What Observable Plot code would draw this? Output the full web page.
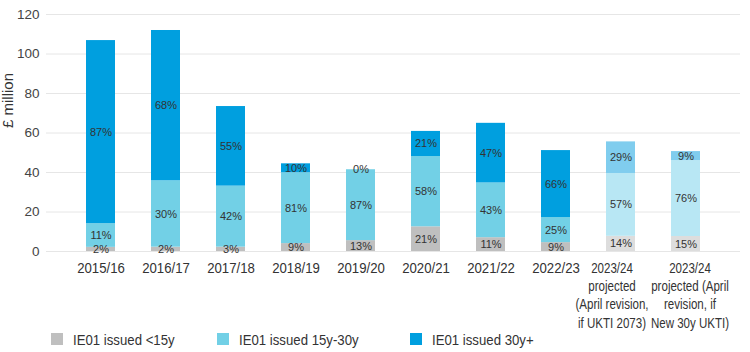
<!DOCTYPE html>
<html>
<head>
<meta charset="utf-8">
<script src="https://cdn.jsdelivr.net/npm/d3@7"></script>
<script src="https://cdn.jsdelivr.net/npm/@observablehq/plot@0.6"></script>
<style>
  html, body { margin: 0; padding: 0; background: #fff; }
  #chart { width: 750px; }
  .legend { display: flex; height: 26px; align-items: center; padding-left: 51px;
    font-family: "Liberation Sans", Arial, sans-serif; font-size: 15px; color: #333; }
  .legend .item { display: flex; align-items: center; }
  .legend .sw { width: 12px; height: 12px; margin-right: 10px; flex: none; }
  .legend .lbl { display: inline-block; transform: scaleX(0.88); transform-origin: left center; white-space: nowrap; }
</style>
</head>
<body>
<div id="chart"></div>
<script>
const categories = [
  "2015/16", "2016/17", "2017/18", "2018/19", "2019/20", "2020/21", "2021/22", "2022/23",
  "2023/24\nprojected\n(April revision,\nif UKTI 2073)",
  "2023/24\nprojected (April\nrevision, if\nNew 30y UKTI)"
];
const projected = [false, false, false, false, false, false, false, false, true, true];
const seriesNames = ["IE01 issued <15y", "IE01 issued 15y-30y", "IE01 issued 30y+"];
// £ million
const under15 = [2.1, 2.2, 2.2, 4.0, 5.5, 12.5, 7.0, 4.5, 7.7, 7.6];
const from15to30 = [12.0, 33.6, 30.9, 35.9, 35.9, 35.6, 27.7, 12.7, 31.8, 38.4];
const over30 = [92.7, 76.1, 40.3, 4.5, 0, 12.7, 30.2, 33.9, 16.0, 4.6];
// share labels
const pctUnder15 = ["2%", "2%", "3%", "9%", "13%", "21%", "11%", "9%", "14%", "15%"];
const pct15to30 = ["11%", "30%", "42%", "81%", "87%", "58%", "43%", "25%", "57%", "76%"];
const pctOver30 = ["87%", "68%", "55%", "10%", "0%", "21%", "47%", "66%", "29%", "9%"];
const yTicks = [0, 20, 40, 60, 80, 100, 120];

const colorKeys = [
  "IE01 issued <15y", "IE01 issued 15y-30y", "IE01 issued 30y+",
  "IE01 issued <15y projected", "IE01 issued 15y-30y projected", "IE01 issued 30y+ projected"
];
const colorRange = ["#bfbfbf", "#72d0e6", "#009fdf", "#dddddd", "#b8e7f4", "#80cdee"];

const valueSets = [under15, from15to30, over30];
const pctSets = [pctUnder15, pct15to30, pctOver30];
const rows = [];
categories.forEach((c, i) => {
  seriesNames.forEach((s, j) => {
    rows.push({
      category: c,
      series: s,
      key: s + (projected[i] ? " projected" : ""),
      value: valueSets[j][i],
      pct: pctSets[j][i],
      order: j
    });
  });
});

const font = "'Liberation Sans', Arial, sans-serif";
const tickStyle = { tickSize: 0, tickPadding: 8, fontSize: 15, lineHeight: 1.23, fill: "#333", label: null };

const plot = Plot.plot({
  width: 750,
  height: 326,
  marginTop: 14,
  marginBottom: 75,
  marginLeft: 46,
  marginRight: 10,
  style: { fontFamily: font, color: "#333", background: "#fff", overflow: "visible" },
  x: { domain: categories, padding: 0.55, label: null },
  y: { domain: [0, 120], label: null },
  color: { type: "ordinal", domain: colorKeys, range: colorRange },
  marks: [
    Plot.gridY(yTicks, { stroke: "#e6e6e6", strokeOpacity: 1 }),
    Plot.barY(rows, Plot.stackY({ x: "category", y: "value", z: "order", order: "order", fill: "key" })),
    Plot.text(rows, Plot.stackY({ x: "category", y: "value", z: "order", order: "order", text: "pct",
      fill: "#333", fontSize: 11, ariaLabel: "pct" })),
    Plot.axisY(yTicks, { tickSize: 0, tickPadding: 7, fontSize: 13.5, fill: "#444", label: null }),
    Plot.axisX(categories.slice(0, 8), tickStyle),
    Plot.axisX(categories.slice(8, 9), { ...tickStyle, dx: -9 }),
    Plot.axisX(categories.slice(9, 10), { ...tickStyle, dx: 4 }),
    Plot.text(["£ million"], { text: d => d, frameAnchor: "left", rotate: -90, dx: -38, dy: -5, fontSize: 15, fill: "#333", ariaLabel: "ylabel" })
  ]
});

// condense text horizontally to mimic the narrow typeface of the original
function squeeze(sel, k) {
  sel.each(function () {
    const t = this.getAttribute("transform") || "";
    const x = parseFloat(this.getAttribute("x"));
    if (!isNaN(x) && x !== 0) this.setAttribute("x", x / k);
    this.setAttribute("transform", t + ` scale(${k},1)`);
  });
}
const svg = d3.select(plot);
const xLabels = svg.selectAll('g[aria-label="x-axis tick label"] text');
squeeze(xLabels.filter(function () { return this.querySelector("tspan") === null; }), 0.88);
squeeze(xLabels.filter(function () { return this.querySelector("tspan") !== null; }), 0.77);
squeeze(svg.selectAll('g[aria-label="ylabel"] text'), 0.85);
squeeze(svg.selectAll('g[aria-label="pct"] text'), 0.76);

document.getElementById("chart").appendChild(plot);

const legend = document.createElement("div");
legend.className = "legend";
const legendWidths = [166, 193, 200];
seriesNames.forEach((s, j) => {
  const item = document.createElement("div");
  item.className = "item";
  item.style.width = legendWidths[j] + "px";
  const sw = document.createElement("span");
  sw.className = "sw";
  sw.style.background = colorRange[j];
  const t = document.createElement("span");
  t.className = "lbl";
  t.textContent = s;
  item.appendChild(sw);
  item.appendChild(t);
  legend.appendChild(item);
});
document.getElementById("chart").appendChild(legend);
</script>
</body>
</html>
